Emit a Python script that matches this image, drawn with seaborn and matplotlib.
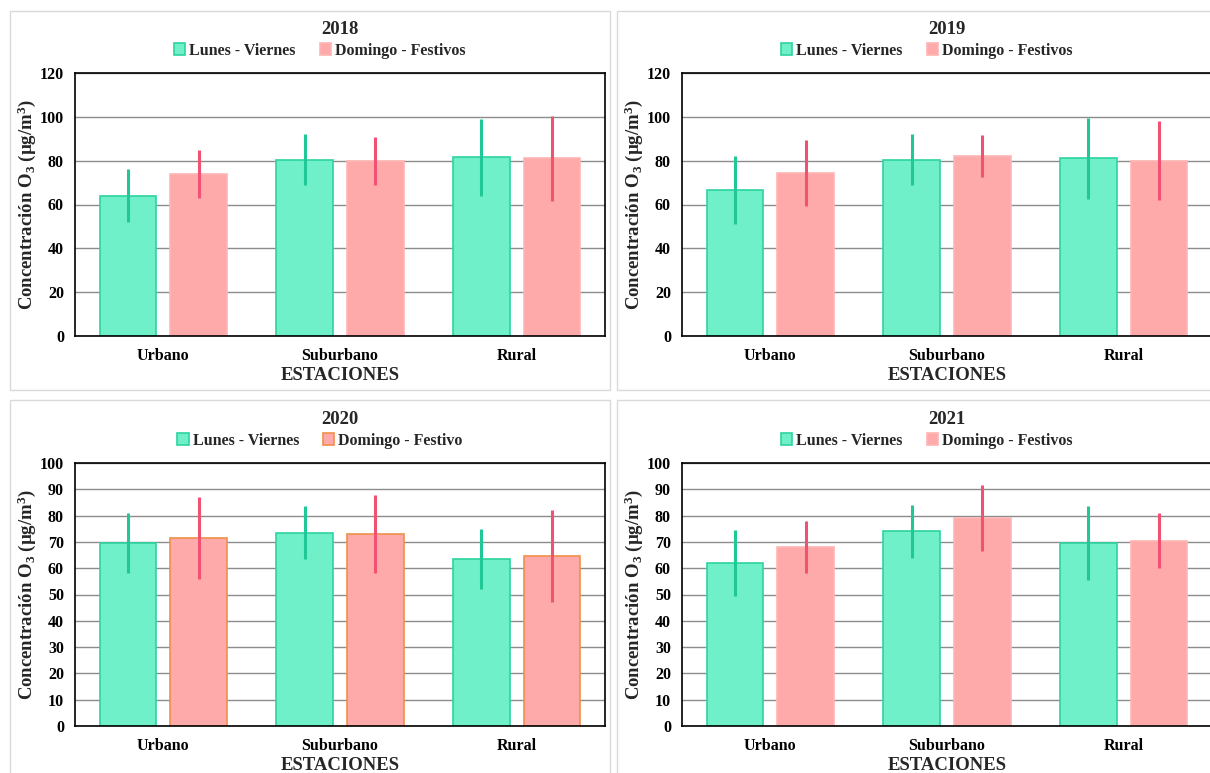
import matplotlib
matplotlib.use("Agg")
import matplotlib.pyplot as plt
from matplotlib.patches import Rectangle
import seaborn as sns
import pandas as pd
import numpy as np

# ---------------- data ----------------
categories = ["Urbano", "Suburbano", "Rural"]
years = ["2018", "2019", "2020", "2021"]

lv_mean = {"2018": [64.0, 80.5, 81.5], "2019": [66.5, 80.5, 81.0],
           "2020": [69.5, 73.5, 63.5], "2021": [62.0, 74.0, 69.5]}
lv_sd = {"2018": [12.0, 11.5, 17.5], "2019": [15.5, 11.5, 18.5],
         "2020": [11.5, 10.0, 11.5], "2021": [12.5, 10.0, 14.0]}
df_mean = {"2018": [74.0, 80.0, 81.0], "2019": [74.5, 82.0, 80.0],
           "2020": [71.5, 73.0, 64.5], "2021": [68.0, 79.0, 70.5]}
df_sd = {"2018": [11.0, 11.0, 19.5], "2019": [15.0, 9.5, 18.0],
         "2020": [15.5, 15.0, 17.5], "2021": [9.8, 12.5, 10.5]}

lv_label = "Lunes - Viernes"
df_labels = {"2018": "Domingo - Festivos", "2019": "Domingo - Festivos",
             "2020": "Domingo - Festivo", "2021": "Domingo - Festivos"}
ymax = {"2018": 120, "2019": 120, "2020": 100, "2021": 100}
ystep = {"2018": 20, "2019": 20, "2020": 10, "2021": 10}

# ---------------- style ----------------
sns.set_theme(style="white")
plt.rcParams["font.family"] = ["Liberation Serif", "DejaVu Serif"]
plt.rcParams["font.weight"] = "bold"
plt.rcParams["mathtext.fontset"] = "custom"
plt.rcParams["mathtext.rm"] = "Liberation Serif:bold"
plt.rcParams["mathtext.bf"] = "Liberation Serif:bold"
plt.rcParams["mathtext.it"] = "Liberation Serif:bold"

green_fill = "#70F0C8"
green_edge = "#2DD4A0"
green_err = "#1FC896"
pink_fill = "#FFAAAA"
pink_edge = "#FFB4B4"
orange_edge = "#F0904A"
pink_err = "#F25272"

W, H = 1210, 773
fig = plt.figure(figsize=(W / 100, H / 100), dpi=100)

# panel frames (pixels: x0, y0, x1, y1)
frames = [(10, 11, 610, 390), (617, 11, 1215, 390),
          (10, 400, 610, 780), (617, 400, 1215, 780)]
for x0, y0, x1, y1 in frames:
    fig.patches.append(Rectangle((x0 / W, 1 - y1 / H), (x1 - x0) / W, (y1 - y0) / H,
                                 transform=fig.transFigure, fill=False,
                                 edgecolor="#D9D9D9", linewidth=1.0, zorder=0))

# axes positions (pixels: left, top, bottom)
ax_pos = [(75, 73, 336), (682, 73, 336), (75, 463, 726), (682, 463, 726)]
ax_w = 530

for yr, (left, top, bottom) in zip(years, ax_pos):
    ax = fig.add_axes([left / W, 1 - bottom / H, ax_w / W, (bottom - top) / H])
    data = pd.DataFrame({
        "Estación": categories * 2,
        "Tipo": [lv_label] * 3 + [df_labels[yr]] * 3,
        "Valor": lv_mean[yr] + df_mean[yr],
    })
    sns.barplot(data=data, x="Estación", y="Valor", hue="Tipo",
                palette=[green_fill, pink_fill], width=0.8, gap=0.2,
                errorbar=None, saturation=1, ax=ax, zorder=2, linewidth=1.2)
    edges = [green_edge, orange_edge if yr == "2020" else pink_edge]
    errs = [lv_sd[yr], df_sd[yr]]
    ecolors = [green_err, pink_err]
    means = [lv_mean[yr], df_mean[yr]]
    for cont, ec, sd, ecol, mv in zip(ax.containers, edges, errs, ecolors, means):
        xs = []
        for p in cont.patches:
            p.set_edgecolor(ec)
            p.set_linewidth(1.2)
            xs.append(p.get_x() + p.get_width() / 2)
        ax.errorbar(xs, mv, yerr=sd, fmt="none", ecolor=ecol, elinewidth=2.2,
                    capsize=0, zorder=3)

    ax.set_ylim(0, ymax[yr])
    ax.set_yticks(np.arange(0, ymax[yr] + 1, ystep[yr]))
    ax.set_xlim(-0.5, 2.5)
    ax.yaxis.grid(True, color="#8C8C8C", linewidth=1.0, zorder=0)
    ax.set_axisbelow(True)
    for s in ax.spines.values():
        s.set_visible(True)
        s.set_color("black")
        s.set_linewidth(1.2)
    ax.tick_params(axis="both", length=0, labelsize=11.5, colors="black")
    ax.tick_params(axis="y", pad=8)
    ax.tick_params(axis="x", pad=9)
    for lab in ax.get_xticklabels() + ax.get_yticklabels():
        lab.set_fontweight("bold")
    ax.set_xlabel("ESTACIONES", fontsize=13.5, fontweight="bold", labelpad=2)
    ax.set_ylabel(r"Concentración O$_\mathbf{3}$ (µg/m$^\mathbf{3}$)",
                  fontsize=13.5, fontweight="bold", labelpad=1)
    ax.set_title(yr, fontsize=13.5, fontweight="bold", pad=28)
    leg = ax.legend(loc="center", bbox_to_anchor=(0.462, 1.085), ncol=2,
                    frameon=False, handlelength=0.7,
                    handleheight=0.7, handletextpad=0.25, columnspacing=1.5,
                    prop={"family": "Liberation Serif", "weight": "bold", "size": 11.5})
    for h, ec in zip(leg.legend_handles, edges):
        h.set_edgecolor(ec)
    for t in leg.get_texts():
        t.set_fontweight("bold")

fig.savefig("out.png", dpi=100)
